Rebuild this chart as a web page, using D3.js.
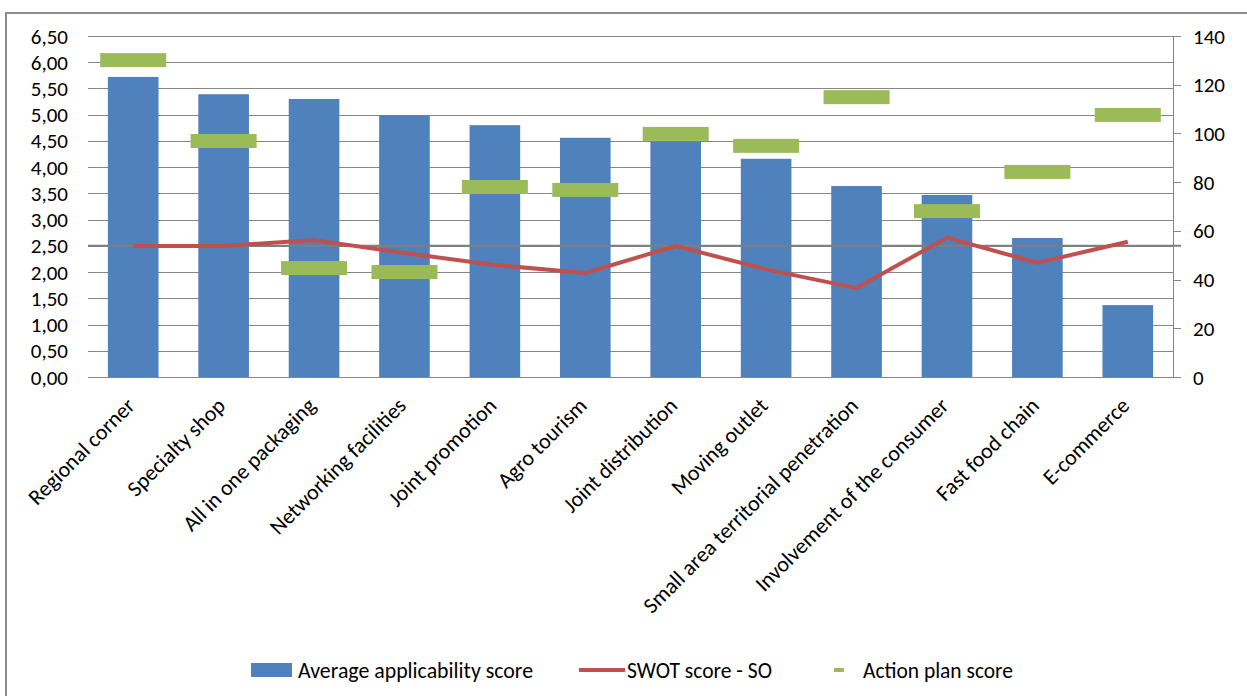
<!DOCTYPE html>
<html>
<head>
<meta charset="utf-8">
<script src="https://cdn.jsdelivr.net/npm/d3@7"></script>
<style>
  html, body { margin: 0; padding: 0; background: #fff; }
  svg { display: block; font-family: Carlito, Calibri, Lato, sans-serif; }
</style>
</head>
<body>
<div id="chart"></div>
<script>
const categories = [
  'Regional corner', 'Specialty shop', 'All in one packaging', 'Networking facilities',
  'Joint promotion', 'Agro tourism', 'Joint distribution', 'Moving outlet',
  'Small area territorial penetration', 'Involvement of the consumer', 'Fast food chain', 'E-commerce'
];
const avgApplicability = [5.72, 5.39, 5.30, 4.99, 4.80, 4.56, 4.49, 4.16, 3.64, 3.47, 2.65, 1.37];
const swotScore = [53.8, 53.8, 56.2, 50.9, 46.0, 42.7, 53.8, 44.2, 36.5, 57.2, 46.9, 55.5];
const actionPlan = [130.1, 96.9, 44.7, 43.1, 78.0, 76.8, 99.8, 94.9, 114.9, 68.1, 84.2, 107.6];
const leftTicks = d3.range(0, 6.51, 0.5);
const rightTicks = d3.range(0, 141, 20);

const width = 1247, height = 696;
const plot = { left: 88, right: 1173, top: 36, bottom: 377 };
const fmtLeft = v => d3.format('.2f')(v).replace('.', ',');

const svg = d3.select('#chart').append('svg')
  .attr('width', width).attr('height', height);

// chart frame
svg.append('path')
  .attr('d', `M6,${height} V13 H${width}`)
  .attr('fill', 'none').attr('stroke', '#8c8c8c').attr('stroke-width', 2);

const x = d3.scaleBand().domain(categories)
  .range([plot.left, plot.right]).paddingInner(0.44).paddingOuter(0.22);
const yL = d3.scaleLinear().domain([0, 6.5]).range([plot.bottom, plot.top]);
const yR = d3.scaleLinear().domain([0, 140]).range([plot.bottom, plot.top]);
const cx = c => x(c) + x.bandwidth() / 2;

// gridlines (left axis)
svg.append('g').selectAll('line').data(leftTicks).join('line')
  .attr('x1', plot.left).attr('x2', plot.right)
  .attr('y1', d => Math.round(yL(d)) + 0.5).attr('y2', d => Math.round(yL(d)) + 0.5)
  .attr('stroke', '#868686').attr('stroke-width', 1);

// left tick labels
svg.append('g').selectAll('text').data(leftTicks).join('text')
  .attr('x', 68).attr('y', d => yL(d)).attr('dy', '0.36em')
  .attr('text-anchor', 'end').attr('font-size', 21).attr('fill', '#000')
  .text(fmtLeft);

// right axis
const gR = svg.append('g');
gR.append('line')
  .attr('x1', plot.right + 0.5).attr('x2', plot.right + 0.5)
  .attr('y1', plot.top).attr('y2', plot.bottom)
  .attr('stroke', '#868686');
gR.selectAll('line.tick').data(rightTicks).join('line')
  .attr('class', 'tick')
  .attr('x1', plot.right).attr('x2', plot.right + 8)
  .attr('y1', d => Math.round(yR(d)) + 0.5).attr('y2', d => Math.round(yR(d)) + 0.5)
  .attr('stroke', '#868686');
gR.selectAll('text').data(rightTicks).join('text')
  .attr('x', 1193).attr('y', d => yR(d)).attr('dy', '0.36em')
  .attr('font-size', 21).attr('fill', '#000')
  .text(d => d);

// bars
svg.append('g').selectAll('rect').data(categories).join('rect')
  .attr('x', d => x(d)).attr('width', x.bandwidth())
  .attr('y', (d, i) => yL(avgApplicability[i]))
  .attr('height', (d, i) => yL(0) - yL(avgApplicability[i]))
  .attr('fill', '#4f81bd');

// darker line at 2,50
svg.append('line')
  .attr('x1', plot.left).attr('x2', plot.right + 8)
  .attr('y1', yL(2.5)).attr('y2', yL(2.5))
  .attr('stroke', '#7f7f7f').attr('stroke-width', 2);

// action plan markers
svg.append('g').selectAll('rect').data(categories).join('rect')
  .attr('x', d => cx(d) - 33).attr('width', 66)
  .attr('y', (d, i) => yR(actionPlan[i]) - 7).attr('height', 14)
  .attr('fill', '#9bbb59');

// SWOT line
const line = d3.line().x(d => cx(d[0])).y(d => yR(d[1]));
svg.append('path')
  .datum(categories.map((c, i) => [c, swotScore[i]]))
  .attr('d', line)
  .attr('fill', 'none').attr('stroke', '#c0504d').attr('stroke-width', 4)
  .attr('stroke-linejoin', 'round');

// category labels
svg.append('g').selectAll('text').data(categories).join('text')
  .attr('transform', d => `translate(${cx(d) + 3},${407}) rotate(-45)`)
  .attr('text-anchor', 'end').attr('font-size', 22).attr('fill', '#000')
  .text(d => d);

// legend
const lg = svg.append('g').attr('font-size', 22).attr('fill', '#000');
lg.append('rect').attr('x', 251).attr('y', 663).attr('width', 41).attr('height', 14).attr('fill', '#4f81bd');
lg.append('text').attr('x', 298).attr('y', 670).attr('dy', '0.36em')
  .attr('textLength', 235).attr('lengthAdjust', 'spacingAndGlyphs').text('Average applicability score');
lg.append('line').attr('x1', 579).attr('x2', 625).attr('y1', 670).attr('y2', 670)
  .attr('stroke', '#c0504d').attr('stroke-width', 4);
lg.append('text').attr('x', 627).attr('y', 670).attr('dy', '0.36em')
  .attr('textLength', 145).attr('lengthAdjust', 'spacingAndGlyphs').text('SWOT score - SO');
lg.append('rect').attr('x', 834).attr('y', 668).attr('width', 10).attr('height', 4).attr('fill', '#9bbb59');
lg.append('text').attr('x', 863).attr('y', 670).attr('dy', '0.36em')
  .attr('textLength', 150).attr('lengthAdjust', 'spacingAndGlyphs').text('Action plan score');
</script>
</body>
</html>
